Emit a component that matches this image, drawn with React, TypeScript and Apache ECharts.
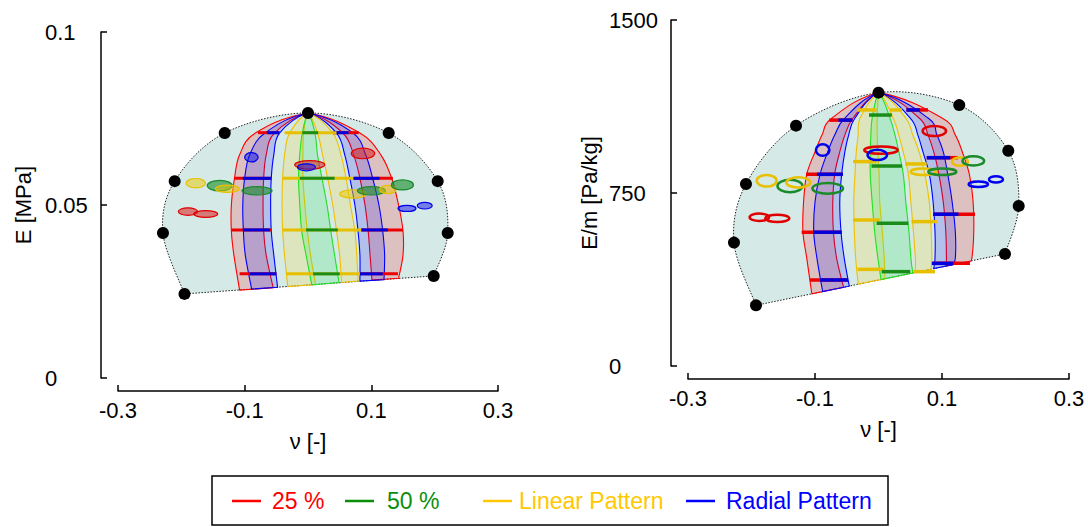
import React, { useEffect, useRef } from "react";
import * as echarts from "echarts";

// ---------------- DATA ----------------
const xTicks = [-0.3, -0.1, 0.1, 0.3];
const eTicks = [0, 0.05, 0.1];
const emTicks = [0, 750, 1500];
const legendNames = ["25 %", "50 %", "Linear Pattern", "Radial Pattern"];
// family index: 0 = 25 % (red), 1 = 50 % (green), 2 = linear (yellow), 3 = radial (blue)

// boundary points (ν, value), from bottom-left round to bottom-right
const eHullNu = [-0.195, -0.229, -0.2105, -0.1315, 0, 0.1274, 0.2048, 0.2206, 0.1985];
const eHullE = [0.0243, 0.0419, 0.0569, 0.0708, 0.0766, 0.0708, 0.0569, 0.0419, 0.0295];
const mHullNu = [-0.1929, -0.2276, -0.2087, -0.1299, 0, 0.1272, 0.2044, 0.2208, 0.1992];
const mHullEm = [263, 535, 789, 1042, 1185, 1131, 933, 694, 486];

// meridian curves: ν at shared levels, then ν at the bottom end
const eTop = [0, 0.0766];
const eLevels = [0.0708, 0.0645, 0.0578, 0.05, 0.0425, 0.0355];
const eCurveNu = [
  [-0.083, -0.108, -0.116, -0.121, -0.121, -0.117, -0.108],
  [-0.068, -0.092, -0.1, -0.103, -0.102, -0.099, -0.089],
  [-0.053, -0.066, -0.07, -0.071, -0.07, -0.066, -0.055],
  [-0.045, -0.054, -0.058, -0.059, -0.058, -0.054, -0.048],
  [-0.029, -0.037, -0.04, -0.041, -0.04, -0.037, -0.032],
  [-0.009, -0.013, -0.015, -0.013, -0.01, -0.003, 0.006],
  [-0.007, -0.008, -0.008, -0.005, -0.001, 0.004, 0.012],
  [0.011, 0.015, 0.022, 0.03, 0.036, 0.042, 0.049],
  [0.015, 0.023, 0.031, 0.039, 0.045, 0.05, 0.053],
  [0.039, 0.052, 0.06, 0.067, 0.074, 0.077, 0.079],
  [0.045, 0.058, 0.066, 0.074, 0.079, 0.082, 0.082],
  [0.055, 0.072, 0.082, 0.09, 0.095, 0.098, 0.101],
  [0.071, 0.091, 0.102, 0.112, 0.118, 0.121, 0.12],
  [0.082, 0.115, 0.132, 0.143, 0.15, 0.15, 0.143],
];
const eCurveBottom = [0.0254, 0.0257, 0.0261, 0.0262, 0.0264, 0.0269, 0.027, 0.0276, 0.0276, 0.028, 0.028, 0.0283, 0.0284, 0.0288];

const mTop = [0, 1185];
const mLevels = [1075, 1001, 928, 832, 711, 581, 468];
const mCurveNu = [
  [-0.073, -0.089, -0.1, -0.113, -0.118, -0.119, -0.113, -0.105],
  [-0.053, -0.069, -0.08, -0.092, -0.1, -0.102, -0.097, -0.088],
  [-0.04, -0.053, -0.061, -0.069, -0.072, -0.071, -0.066, -0.055],
  [-0.037, -0.047, -0.053, -0.058, -0.061, -0.059, -0.054, -0.046],
  [-0.029, -0.032, -0.035, -0.037, -0.039, -0.038, -0.036, -0.032],
  [-0.01, -0.012, -0.013, -0.013, -0.01, -0.006, -0.001, 0.004],
  [-0.002, -0.002, -0.001, 0.001, 0.002, 0.006, 0.009, 0.01],
  [0.018, 0.026, 0.032, 0.039, 0.043, 0.048, 0.051, 0.054],
  [0.023, 0.032, 0.039, 0.047, 0.051, 0.055, 0.058, 0.058],
  [0.043, 0.054, 0.064, 0.073, 0.08, 0.083, 0.084, 0.083],
  [0.05, 0.062, 0.07, 0.08, 0.086, 0.089, 0.089, 0.087],
  [0.064, 0.078, 0.087, 0.095, 0.102, 0.106, 0.107, 0.106],
  [0.078, 0.092, 0.102, 0.109, 0.116, 0.121, 0.121, 0.117],
  [0.1, 0.121, 0.132, 0.143, 0.149, 0.15, 0.147, 0.143],
];
const mCurveBottom = [313, 323, 341, 346, 355, 375, 378, 403, 405, 419, 422, 433, 439, 453];

// bands: [curve A, curve B, family]
const bandPairs = [
  [0, 2, 0], [11, 13, 0],
  [1, 3, 3], [10, 12, 3],
  [4, 6, 2], [8, 9, 2],
  [5, 7, 1],
];

// horizontal bars: [ν from, ν to, value]
const eSegRed = [[-0.079, -0.045, 0.0709], [0.04, 0.08, 0.0709], [-0.116, -0.058, 0.0577], [0.072, 0.134, 0.0577], [-0.121, -0.058, 0.0428], [0.084, 0.15, 0.0428], [-0.108, -0.05, 0.0301], [0.082, 0.142, 0.0301]];
const eSegBlue = [[-0.065, -0.045, 0.0709], [0.04, 0.064, 0.0709], [-0.103, -0.058, 0.0577], [0.072, 0.113, 0.0577], [-0.103, -0.06, 0.0428], [0.084, 0.126, 0.0428], [-0.092, -0.05, 0.0301], [0.082, 0.118, 0.0301]];
const eSegYellow = [[-0.037, 0.045, 0.0709], [-0.04, 0.071, 0.0577], [-0.04, 0.084, 0.0428], [-0.034, 0.082, 0.0301]];
const eSegGreen = [[-0.009, 0.016, 0.0709], [-0.013, 0.042, 0.0577], [-0.003, 0.047, 0.0428], [0.008, 0.05, 0.0301]];

const mSegRed = [[-0.0775, -0.041, 1066], [-0.114, -0.056, 831], [-0.121, -0.058, 580], [-0.108, -0.048, 373], [0.044, 0.078, 1110], [0.076, 0.125, 903], [0.086, 0.152, 658], [0.086, 0.144, 445]];
const mSegBlue = [[-0.063, -0.041, 1066], [-0.097, -0.056, 831], [-0.103, -0.058, 580], [-0.092, -0.048, 373], [0.044, 0.065, 1110], [0.076, 0.113, 903], [0.086, 0.126, 658], [0.084, 0.118, 445]];
const mSegYellow = [[-0.034, -0.003, 1110], [0.018, 0.037, 1110], [-0.04, -0.003, 886], [0.042, 0.076, 876], [-0.04, 0.002, 633], [0.052, 0.092, 626], [-0.033, 0.008, 419], [0.055, 0.089, 409]];
const mSegGreen = [[-0.015, 0.021, 1088], [-0.011, 0.037, 867], [-0.003, 0.047, 619], [0.005, 0.05, 409]];

// ellipses: [ν, value, half-width ν, half-height value, family]
const eEllipses = [
  [-0.0894, 0.0638, 0.0106, 0.00136, 3],
  [0.0027, 0.0616, 0.0237, 0.00121, 0],
  [-0.0025, 0.0609, 0.0142, 0.00101, 3],
  [0.0868, 0.0649, 0.0185, 0.00153, 0],
  [-0.1773, 0.0563, 0.0153, 0.00136, 2],
  [-0.1394, 0.0556, 0.0197, 0.00153, 1],
  [-0.1273, 0.0547, 0.0189, 0.00107, 2],
  [-0.0805, 0.0541, 0.0237, 0.00121, 1],
  [0.0711, 0.0532, 0.021, 0.00121, 2],
  [0.1001, 0.0541, 0.0221, 0.00121, 1],
  [0.1263, 0.0545, 0.0131, 0.00121, 2],
  [0.1491, 0.0558, 0.0174, 0.00145, 1],
  [-0.1895, 0.0481, 0.0153, 0.00107, 0],
  [-0.1615, 0.0474, 0.0189, 0.00095, 0],
  [0.1563, 0.049, 0.0142, 0.00087, 3],
  [0.1843, 0.0498, 0.0118, 0.00095, 3],
];
const mEllipses = [
  [-0.0879, 936, 0.0106, 25, 3],
  [0.0039, 936, 0.0263, 16, 0],
  [-0.0019, 915, 0.0153, 22, 3],
  [0.0879, 1019, 0.0184, 22, 0],
  [-0.1761, 803, 0.0157, 25, 2],
  [-0.1394, 780, 0.0197, 27, 1],
  [-0.1263, 796, 0.0189, 22, 2],
  [-0.08, 770, 0.0241, 23, 1],
  [0.0706, 842, 0.0197, 14, 2],
  [0.1005, 842, 0.022, 14, 1],
  [0.1283, 886, 0.0126, 18, 2],
  [0.1493, 889, 0.017, 20, 1],
  [-0.1877, 645, 0.0153, 16, 0],
  [-0.1594, 640, 0.0189, 16, 0],
  [0.1572, 788, 0.0153, 12, 3],
  [0.185, 809, 0.011, 14, 3],
];

// ---------------- STYLE ----------------
const FONT = "'Liberation Sans', Arial, sans-serif";
const FS = 22;
const legendColors = ["#ff0000", "#0a8f0a", "#ffc800", "#0000ff"];
const bandFill = ["rgba(255,0,0,0.17)", "rgba(0,230,60,0.17)", "rgba(255,210,0,0.18)", "rgba(0,0,255,0.17)"];
const bandStroke = ["#ff0000", "#22e022", "#f0c000", "#0000ff"];
const segColor = ["#ee0000", "#1a8c1a", "#e6c000", "#0000dd"];
const ellFill = ["rgba(215,30,30,0.55)", "rgba(20,140,40,0.6)", "rgba(235,200,0,0.5)", "rgba(20,20,230,0.5)"];
const ellStroke = ["#e00000", "#1a8a2a", "#e8c000", "#0000ee"];
const hullFill = "#d5e9e7";

// Catmull-Rom through points; `poleStart`/`poleEnd` give a dome-like tangent at the pole
function crSegs(p: number[][], poleStart = false, poleEnd = false): string {
  let d = "";
  const n = p.length;
  for (let i = 0; i < n - 1; i++) {
    const p0 = p[Math.max(i - 1, 0)];
    const p1 = p[i];
    const p2 = p[i + 1];
    const p3 = p[Math.min(i + 2, n - 1)];
    let c1x = p1[0] + (p2[0] - p0[0]) / 6;
    let c1y = p1[1] + (p2[1] - p0[1]) / 6;
    let c2x = p2[0] - (p3[0] - p1[0]) / 6;
    let c2y = p2[1] - (p3[1] - p1[1]) / 6;
    if (poleStart && i === 0) {
      c1x = p1[0] + 0.5 * (p2[0] - p1[0]);
      c1y = p1[1] + 0.22 * (p2[1] - p1[1]);
    }
    if (poleEnd && i === n - 2) {
      c2x = p2[0] + 0.5 * (p1[0] - p2[0]);
      c2y = p2[1] + 0.22 * (p1[1] - p2[1]);
    }
    d += ` C${c1x.toFixed(2)},${c1y.toFixed(2)} ${c2x.toFixed(2)},${c2y.toFixed(2)} ${p2[0].toFixed(2)},${p2[1].toFixed(2)}`;
  }
  return d;
}

function chartSeries(
  gi: number,
  hullNu: number[],
  hullV: number[],
  top: number[],
  levels: number[],
  curveNu: number[][],
  curveBottom: number[],
  segs: number[][][],
  ellipses: number[][],
  filledEllipses: boolean
): any[] {
  const axes = { xAxisIndex: gi, yAxisIndex: gi };
  const out: any[] = [];
  // hull region
  out.push({
    type: "custom",
    ...axes,
    silent: true,
    data: [[top[0], top[1]]],
    renderItem: (_p: any, api: any) => {
      const pts = hullNu.map((n, i) => api.coord([n, hullV[i]]));
      const d = `M${pts[0][0]},${pts[0][1]}` + crSegs(pts) + " Z";
      return {
        type: "path",
        shape: { pathData: d },
        style: { fill: hullFill, stroke: "#222", lineWidth: 1, lineDash: [1.5, 1.5] },
      };
    },
  });
  // bands
  out.push({
    type: "custom",
    ...axes,
    silent: true,
    data: bandPairs.map((b, i) => [top[0], top[1], i]),
    renderItem: (_p: any, api: any) => {
      const b = bandPairs[api.value(2)];
      const curvePts = (ci: number) => {
        const arr = [api.coord([top[0], top[1]])];
        curveNu[ci].forEach((n, k) => {
          const v = k < levels.length ? levels[k] : curveBottom[ci];
          arr.push(api.coord([n, v]));
        });
        return arr;
      };
      const L = curvePts(b[0]);
      const R = curvePts(b[1]).reverse();
      const d =
        `M${L[0][0]},${L[0][1]}` + crSegs(L, true, false) + ` L${R[0][0]},${R[0][1]}` + crSegs(R, false, true) + " Z";
      return {
        type: "path",
        shape: { pathData: d },
        style: { fill: bandFill[b[2]], stroke: bandStroke[b[2]], lineWidth: 1.1 },
      };
    },
  });
  // bars
  const famOrder = [0, 3, 2, 1];
  famOrder.forEach((fam) => {
    const list = segs[fam];
    out.push({
      type: "custom",
      ...axes,
      silent: true,
      data: list.map((s) => [s[0], s[2], s[1]]),
      renderItem: (_p: any, api: any) => {
        const a = api.coord([api.value(0), api.value(1)]);
        const c = api.coord([api.value(2), api.value(1)]);
        return {
          type: "line",
          shape: { x1: a[0], y1: a[1], x2: c[0], y2: c[1] },
          style: { stroke: segColor[fam], lineWidth: filledEllipses ? 3 : 3.5 },
        };
      },
    });
  });
  // ellipses
  out.push({
    type: "custom",
    ...axes,
    silent: true,
    data: ellipses,
    renderItem: (_p: any, api: any) => {
      const c = api.coord([api.value(0), api.value(1)]);
      const s = api.size([api.value(2), api.value(3)]);
      const fam = api.value(4);
      return {
        type: "ellipse",
        shape: { cx: c[0], cy: c[1], rx: s[0], ry: s[1] },
        style: filledEllipses
          ? { fill: ellFill[fam], stroke: ellStroke[fam], lineWidth: 1.2 }
          : { fill: "none", stroke: ellStroke[fam], lineWidth: 2.5 },
      };
    },
  });
  // dots
  out.push({
    type: "scatter",
    ...axes,
    silent: true,
    symbolSize: 12,
    itemStyle: { color: "#000", opacity: 1 },
    data: hullNu.map((n, i) => [n, hullV[i]]),
  });
  return out;
}

function fmt(v: number): string {
  return String(parseFloat(Number(v).toFixed(3)));
}

function xAxisCfg(gi: number): any {
  return {
    type: "value",
    gridIndex: gi,
    min: -0.3,
    max: 0.3,
    offset: 13,
    name: "ν [-]",
    nameLocation: "middle",
    nameGap: 39,
    nameTextStyle: { fontSize: FS, color: "#000", fontFamily: FONT },
    axisLine: { show: true, onZero: false, lineStyle: { color: "#000", width: 1.5 } },
    axisTick: { show: true, inside: true, length: 6, customValues: xTicks, lineStyle: { color: "#000", width: 1.5 } },
    axisLabel: { customValues: xTicks, margin: 8, fontSize: FS, color: "#000", fontFamily: FONT, formatter: fmt },
    splitLine: { show: false },
  };
}

function yAxisCfg(gi: number, max: number, ticks: number[], name: string, margin: number, nameGap: number): any {
  return {
    type: "value",
    gridIndex: gi,
    min: 0,
    max,
    interval: ticks[1] - ticks[0],
    offset: 17,
    name,
    nameLocation: "middle",
    nameGap,
    nameTextStyle: { fontSize: FS, color: "#000", fontFamily: FONT },
    axisLine: { show: true, onZero: false, lineStyle: { color: "#000", width: 1.5 } },
    axisTick: { show: true, inside: true, length: 6, lineStyle: { color: "#000", width: 1.5 } },
    axisLabel: { margin, align: "left", fontSize: FS, color: "#000", fontFamily: FONT, formatter: fmt },
    splitLine: { show: false },
  };
}

function buildOption(): any {
  const legendLineX = [232, 345, 483, 686];
  const legendTextX = [272, 387, 519, 726];
  const legendEls: any[] = [
    {
      type: "rect",
      shape: { x: 212, y: 476, width: 676, height: 49 },
      style: { fill: "#fff", stroke: "#000", lineWidth: 1.5 },
    },
  ];
  legendNames.forEach((nm, i) => {
    legendEls.push({
      type: "line",
      shape: { x1: legendLineX[i], y1: 501, x2: legendLineX[i] + 29, y2: 501 },
      style: { stroke: legendColors[i], lineWidth: 2.5 },
    });
    legendEls.push({
      type: "text",
      x: legendTextX[i],
      y: 501,
      style: {
        text: nm,
        fill: legendColors[i],
        fontSize: 23,
        fontFamily: FONT,
        verticalAlign: "middle",
        align: "left",
      },
    });
  });

  return {
    animation: false,
    backgroundColor: "#fff",
    textStyle: { fontFamily: FONT },
    grid: [
      { left: 118, top: 32, width: 380, height: 346 },
      { left: 688, top: 20, width: 381, height: 346 },
    ],
    xAxis: [xAxisCfg(0), xAxisCfg(1)],
    yAxis: [
      yAxisCfg(0, 0.1, eTicks, "E [MPa]", 56, 67),
      yAxisCfg(1, 1500, emTicks, "E/m [Pa/kg]", 62, 71),
    ],
    graphic: legendEls,
    series: [
      ...chartSeries(0, eHullNu, eHullE, eTop, eLevels, eCurveNu, eCurveBottom,
        [eSegRed, eSegGreen, eSegYellow, eSegBlue], eEllipses, true),
      ...chartSeries(1, mHullNu, mHullEm, mTop, mLevels, mCurveNu, mCurveBottom,
        [mSegRed, mSegGreen, mSegYellow, mSegBlue], mEllipses, false),
    ],
  };
}

export default function App() {
  const ref = useRef<HTMLDivElement>(null);
  useEffect(() => {
    const chart = echarts.init(ref.current!, null, { renderer: "svg" });
    chart.setOption(buildOption());
    return () => chart.dispose();
  }, []);
  return (
    <div
      ref={ref}
      style={{ position: "fixed", left: 0, top: 0, width: 1088, height: 527, background: "#fff" }}
    />
  );
}
